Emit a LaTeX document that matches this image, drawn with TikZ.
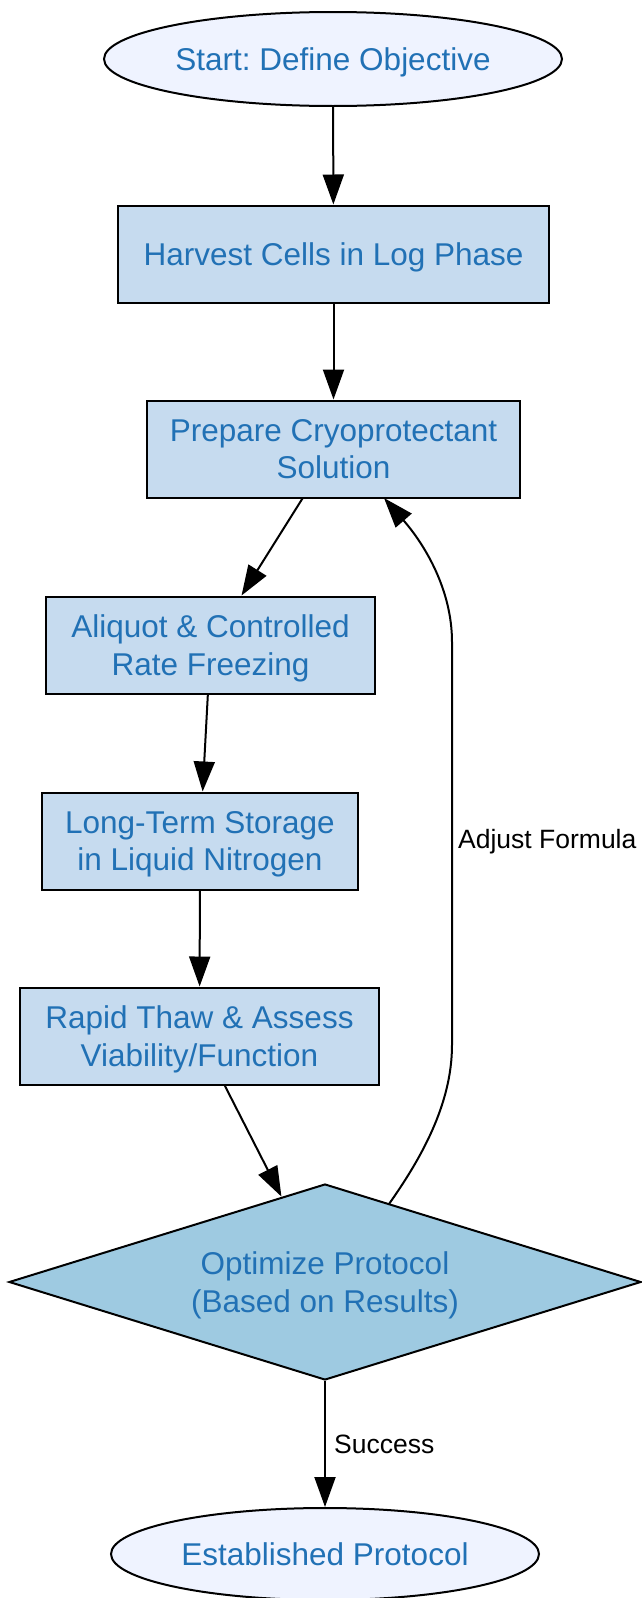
\documentclass[tikz,border=0pt]{standalone}
\usepackage{fontspec}
\setmainfont{Liberation Sans}
\frenchspacing
\usetikzlibrary{shapes.geometric,arrows.meta}
\definecolor{ellfill}{HTML}{EFF3FF}
\definecolor{boxfill}{HTML}{C6DBEF}
\definecolor{diafill}{HTML}{9ECAE1}
\definecolor{txtblue}{HTML}{2171B5}
\begin{document}
\begin{tikzpicture}[x=1pt,y=-1pt,
  base/.style={draw=black,line width=2pt,text=txtblue,inner sep=0pt,align=center,
    text depth=0pt,font=\fontsize{31.5}{37.7}\selectfont},
  term/.style={base,ellipse,fill=ellfill},
  procbox/.style={base,rectangle,fill=boxfill,minimum height=97pt},
  decide/.style={base,diamond,fill=diafill,aspect=3.2245,minimum width=632pt,minimum height=196pt},
  conn/.style={line width=2pt,-{Triangle[length=30pt,width=21pt]}},
  lbl/.style={font=\fontsize{26.5}{30}\selectfont,text=black,inner sep=0pt}]
\useasboundingbox (0,0) rectangle (642,1598);
\node[term,minimum width=458pt,minimum height=94pt] (S) at (333,59) {Start: Define Objective};
\node[procbox,minimum width=431pt] (H) at (333.5,254) {Harvest Cells in Log Phase};
\node[procbox,minimum width=373pt] (P) at (333.5,449) {Prepare Cryoprotectant\\Solution};
\node[procbox,minimum width=329pt] (A) at (210.5,645) {Aliquot \& Controlled\\Rate Freezing};
\node[procbox,minimum width=316pt] (L) at (200,841) {Long-Term Storage\\in Liquid Nitrogen};
\node[procbox,minimum width=359pt] (R) at (199.5,1036) {Rapid Thaw \& Assess\\Viability/Function};
\node[decide] (D) at (325,1282) {Optimize Protocol\\(Based on Results)};
\node[term,minimum width=428pt,minimum height=92pt] (E) at (325,1554) {Established Protocol};
\draw[conn] (S) -- (H);
\draw[conn] (H) -- (P);
\draw[conn] (P) -- (A);
\draw[conn] (A) -- (L);
\draw[conn] (L) -- (R);
\draw[conn] (R) -- (D);
\coordinate (dstart) at (389,1204);
\coordinate (c1) at (452,1045);
\coordinate (c2) at (452,642);
\coordinate (ptip) at (384,498);
\draw[conn] (dstart) .. controls (420,1160) and (452,1105) .. (c1) -- (c2)
  .. controls (452,590) and (425,545) .. (ptip);
\node[lbl,anchor=west] (la) at (458,842) {Adjust Formula};
\draw[conn] (D) -- (E);
\node[lbl,anchor=west] (ls) at (334,1444) {Success};
\end{tikzpicture}
\end{document}
